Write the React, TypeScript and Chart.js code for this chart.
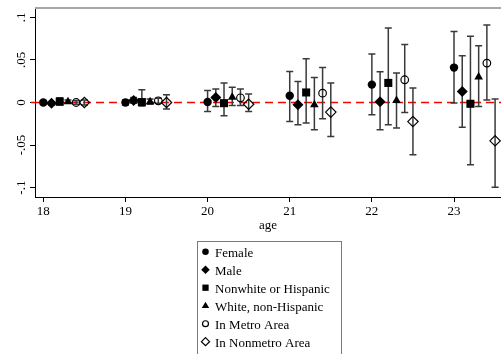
import React, { useEffect, useRef } from 'react';
import { Chart, registerables } from 'chart.js';

Chart.register(...registerables);

// ---- data ----
const ages = [18, 19, 20, 21, 22, 23];
const seriesLabels = [
  'Female',
  'Male',
  'Nonwhite or Hispanic',
  'White, non-Hispanic',
  'In Metro Area',
  'In Nonmetro Area',
];

const femaleEst = [0.0, 0.0, 0.0005, 0.008, 0.021, 0.041];
const femaleLo = [-0.002, -0.003, -0.0106, -0.0224, -0.0145, -0.0005];
const femaleHi = [0.002, 0.003, 0.014, 0.0365, 0.057, 0.0835];

const maleEst = [-0.001, 0.0024, 0.006, -0.0027, 0.001, 0.013];
const maleLo = [-0.003, -0.001, -0.0047, -0.026, -0.032, -0.029];
const maleHi = [0.001, 0.006, 0.016, 0.0247, 0.036, 0.055];

const nonwhiteEst = [0.001, 0.0005, -0.0008, 0.0118, 0.023, -0.0015];
const nonwhiteLo = [-0.003, -0.004, -0.0156, -0.024, -0.026, -0.073];
const nonwhiteHi = [0.0055, 0.015, 0.0228, 0.0514, 0.0875, 0.0777];

const whiteEst = [0.001, 0.001, 0.0063, -0.0027, 0.0024, 0.03];
const whiteLo = [-0.001, -0.002, -0.0035, -0.032, -0.03, -0.0047];
const whiteHi = [0.003, 0.004, 0.018, 0.0294, 0.0346, 0.0667];

const metroEst = [0.0, 0.002, 0.0055, 0.011, 0.0267, 0.0463];
const metroLo = [-0.002, -0.001, -0.0035, -0.019, -0.0118, 0.003];
const metroHi = [0.002, 0.005, 0.016, 0.041, 0.068, 0.091];

const nonmetroEst = [0.0, 0.0, -0.002, -0.0113, -0.0224, -0.045];
const nonmetroLo = [-0.003, -0.0075, -0.0106, -0.04, -0.0615, -0.0995];
const nonmetroHi = [0.003, 0.009, 0.01, 0.0228, 0.017, 0.004];

const yTickValues = [-0.1, -0.05, 0, 0.05, 0.1];
const yTickLabels = ['-.1', '-.05', '0', '.05', '.1'];
const xTitle = 'age';

// ---- styles ----
const xOffsets = [0, 0.1, 0.2, 0.3, 0.4, 0.5];
const styles = [
  { pointStyle: 'circle', radius: 4.2, filled: true },
  { pointStyle: 'rectRot', radius: 5.5, filled: true },
  { pointStyle: 'rect', radius: 5.7, filled: true },
  { pointStyle: 'triangle', radius: 5, filled: true },
  { pointStyle: 'circle', radius: 3.8, filled: false },
  { pointStyle: 'rectRot', radius: 5.2, filled: false },
];
const FONT = '13px "Liberation Serif", "Times New Roman", serif';

const estimates = [femaleEst, maleEst, nonwhiteEst, whiteEst, metroEst, nonmetroEst];
const lows = [femaleLo, maleLo, nonwhiteLo, whiteLo, metroLo, nonmetroLo];
const highs = [femaleHi, maleHi, nonwhiteHi, whiteHi, metroHi, nonmetroHi];

function drawMarker(ctx: CanvasRenderingContext2D, style: string, x: number, y: number, r: number, filled: boolean) {
  ctx.save();
  ctx.beginPath();
  if (style === 'circle') {
    ctx.arc(x, y, r, 0, Math.PI * 2);
  } else if (style === 'rect') {
    const s = r * Math.SQRT1_2;
    ctx.rect(x - s, y - s, 2 * s, 2 * s);
  } else if (style === 'rectRot') {
    ctx.moveTo(x, y - r);
    ctx.lineTo(x + r, y);
    ctx.lineTo(x, y + r);
    ctx.lineTo(x - r, y);
    ctx.closePath();
  } else if (style === 'triangle') {
    ctx.moveTo(x, y - r);
    ctx.lineTo(x + r * 0.95, y + r * 0.6);
    ctx.lineTo(x - r * 0.95, y + r * 0.6);
    ctx.closePath();
  }
  if (filled) {
    ctx.fillStyle = '#000';
    ctx.fill();
  } else {
    ctx.strokeStyle = '#000';
    ctx.lineWidth = 1.2;
    ctx.stroke();
  }
  ctx.restore();
}

const decorPlugin = {
  id: 'decor',
  beforeDatasetsDraw(chart: any) {
    const ctx: CanvasRenderingContext2D = chart.ctx;
    const xs = chart.scales.x;
    const ys = chart.scales.y;
    const area = chart.chartArea;
    ctx.save();
    // top gray frame line
    ctx.strokeStyle = '#a6a6a6';
    ctx.lineWidth = 2;
    ctx.beginPath();
    ctx.moveTo(area.left, area.top);
    ctx.lineTo(area.right, area.top);
    ctx.stroke();
    // zero dashed red line
    const y0 = ys.getPixelForValue(0);
    ctx.strokeStyle = '#ff0000';
    ctx.lineWidth = 1.5;
    ctx.setLineDash([8, 5]);
    ctx.beginPath();
    ctx.moveTo(area.left - 4, y0);
    ctx.lineTo(area.right, y0);
    ctx.stroke();
    ctx.setLineDash([]);
    // error bars
    ctx.strokeStyle = '#3a3a3a';
    ctx.lineWidth = 1.5;
    chart.data.datasets.forEach((ds: any) => {
      ds.data.forEach((pt: any, i: number) => {
        const px = xs.getPixelForValue(pt.x);
        const pl = ys.getPixelForValue(ds.lo[i]);
        const ph = ys.getPixelForValue(ds.hi[i]);
        ctx.beginPath();
        ctx.moveTo(px, pl);
        ctx.lineTo(px, ph);
        ctx.moveTo(px - 3.5, pl);
        ctx.lineTo(px + 3.5, pl);
        ctx.moveTo(px - 3.5, ph);
        ctx.lineTo(px + 3.5, ph);
        ctx.stroke();
      });
    });
    ctx.restore();
  },
  afterDraw(chart: any) {
    const ctx: CanvasRenderingContext2D = chart.ctx;
    const ys = chart.scales.y;
    const area = chart.chartArea;
    ctx.save();
    ctx.fillStyle = '#000';
    ctx.font = FONT;
    // rotated y tick labels
    yTickValues.forEach((v, i) => {
      const py = ys.getPixelForValue(v);
      ctx.save();
      ctx.translate(25, py);
      ctx.rotate(-Math.PI / 2);
      ctx.textAlign = 'center';
      ctx.textBaseline = 'alphabetic';
      ctx.fillText(yTickLabels[i], 0, 0);
      ctx.restore();
    });
    // x title
    ctx.textAlign = 'center';
    ctx.textBaseline = 'alphabetic';
    ctx.fillText(xTitle, (area.left + area.right) / 2, 229);
    // legend box
    ctx.strokeStyle = '#7a7a7a';
    ctx.lineWidth = 1;
    ctx.strokeRect(197.5, 241.5, 144, 130);
    ctx.textAlign = 'left';
    seriesLabels.forEach((lab, i) => {
      const my = 251.7 + i * 18;
      const st = styles[i];
      drawMarker(ctx, st.pointStyle, 205.5, my, st.radius * 0.78, st.filled);
      ctx.fillStyle = '#000';
      ctx.fillText(lab, 215, my + 4.8);
    });
    ctx.restore();
  },
};

export default function App() {
  const canvasRef = useRef<HTMLCanvasElement | null>(null);

  useEffect(() => {
    const canvas = canvasRef.current;
    if (!canvas) return;
    const datasets = seriesLabels.map((label, s) => ({
      label,
      data: ages.map((a, i) => ({ x: a + xOffsets[s], y: estimates[s][i] })),
      lo: lows[s],
      hi: highs[s],
      pointStyle: styles[s].pointStyle,
      pointRadius: styles[s].radius,
      pointHoverRadius: styles[s].radius,
      backgroundColor: styles[s].filled ? '#000' : 'rgba(0,0,0,0)',
      borderColor: '#000',
      borderWidth: styles[s].filled ? 0 : 1.2,
      showLine: false,
      clip: false,
    }));

    const chart = new Chart(canvas, {
      type: 'scatter',
      data: { datasets: datasets as any },
      options: {
        animation: false,
        responsive: false,
        devicePixelRatio: 1,
        layout: { autoPadding: false, padding: { top: 8, right: 0, left: 0, bottom: 0 } },
        plugins: {
          legend: { display: false },
          tooltip: { enabled: false },
        },
        scales: {
          x: {
            type: 'linear',
            position: 'bottom',
            min: 17.899,
            max: 23.572,
            afterBuildTicks: (scale: any) => {
              scale.ticks = ages.map((v) => ({ value: v }));
            },
            afterFit: (scale: any) => {
              scale.height = 157;
            },
            ticks: {
              color: '#000',
              padding: 2,
              maxRotation: 0,
              autoSkip: false,
              font: { family: '"Liberation Serif", "Times New Roman", serif', size: 13 },
              callback: (v: any) => String(v),
            },
            grid: {
              display: true,
              drawOnChartArea: false,
              drawTicks: true,
              tickLength: 5,
              color: '#000',
              tickColor: '#000',
            },
            border: { display: true, color: '#000', width: 1 },
          },
          y: {
            type: 'linear',
            min: -0.111,
            max: 0.111,
            afterBuildTicks: (scale: any) => {
              scale.ticks = yTickValues.map((v) => ({ value: v }));
            },
            afterFit: (scale: any) => {
              scale.width = 35;
            },
            ticks: { display: false },
            grid: {
              display: true,
              drawOnChartArea: false,
              drawTicks: true,
              tickLength: 5,
              color: '#000',
              tickColor: '#000',
            },
            border: { display: true, color: '#000', width: 1 },
          },
        },
      },
      plugins: [decorPlugin],
    } as any);

    return () => chart.destroy();
  }, []);

  return (
    <div style={{ position: 'absolute', left: 0, top: 0, width: 501, height: 354, background: '#fff' }}>
      <canvas ref={canvasRef} width={501} height={354} style={{ width: 501, height: 354, display: 'block' }} />
    </div>
  );
}
